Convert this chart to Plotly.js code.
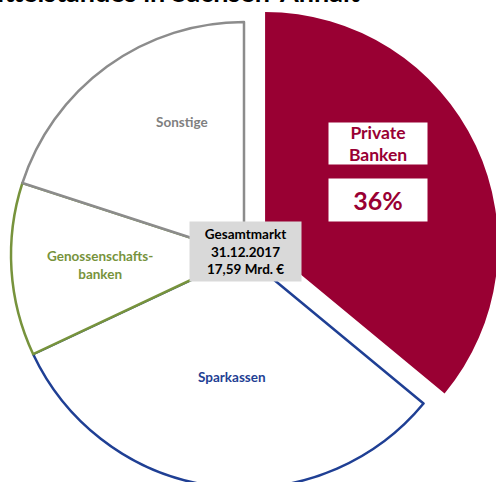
<!DOCTYPE html>
<html><head><meta charset="utf-8">
<script src="https://cdn.plot.ly/plotly-3.0.1.min.js"></script>
<style>
html,body{margin:0;padding:0;width:496px;height:482px;overflow:hidden;background:#fff;position:relative}
#chart{position:absolute;left:-20px;top:-40px;width:560px;height:560px}
</style>
</head><body><div id="chart"></div>
<script>
const categories = ["Private Banken", "Sparkassen", "Genossenschaftsbanken", "Sonstige"];
const shares = [36, 32, 12, 20];
const fillColors = ["#990033", "#ffffff", "#ffffff", "#ffffff"];
const lineColors = ["#990033", "#1f3f94", "#77933c", "#8c8c8c"];
const lineWidths = [0, 2.5, 2.5, 2.5];
const pulls = [0.1, 0, 0, 0];
const sliceLabels = ["Private<br>Banken", "Sparkassen", "Genossenschafts-<br>banken", "Sonstige"];
const shareLabel = "36%";
const totalLabel = ["Gesamtmarkt", "31.12.2017", "17,59 Mrd. €"];
const titleText = "Mittelstandes in Sachsen-Anhalt";

const W = 560, H = 560, OX = 20, OY = 40;
function px(x) { return (x + OX) / W; }
function py(y) { return 1 - (y + OY) / H; }
const FONT = "Lato, 'Open Sans', 'DejaVu Sans', sans-serif";

const trace = {
  type: "pie",
  labels: categories,
  values: shares,
  sort: false,
  direction: "clockwise",
  rotation: 0,
  pull: pulls,
  textinfo: "none",
  hoverinfo: "skip",
  marker: { colors: fillColors, line: { color: lineColors, width: lineWidths } },
  domain: { x: [7.7 / W, 520.3 / W], y: [1 - 551.3 / H, 1 - 38.7 / H] }
};

const ann = (o) => Object.assign({ xref: "paper", yref: "paper", showarrow: false,
                                   xanchor: "center", yanchor: "middle" }, o);

const annotations = [
  ann({ x: px(362), y: py(9.5), xanchor: "right", yanchor: "bottom", text: titleText,
        font: { family: FONT, size: 27, weight: "bold", color: "#000000" } }),
  ann({ x: px(182), y: py(122), text: sliceLabels[3],
        font: { family: FONT, size: 13.5, weight: "bold", color: "#7f7f7f" } }),
  ann({ x: px(100), y: py(265), text: sliceLabels[2],
        font: { family: FONT, size: 13.5, weight: "bold", color: "#77933c" } }),
  ann({ x: px(232), y: py(377), text: sliceLabels[1],
        font: { family: FONT, size: 13.5, weight: "bold", color: "#1f3f94" } }),
  ann({ x: px(245), y: py(251.5), width: 111, height: 59, borderpad: 0, bgcolor: "#d9d9d9",
        text: totalLabel.join("<br>"),
        font: { family: FONT, size: 13.5, weight: "bold", color: "#000000" } }),
  ann({ x: px(378), y: py(143.5), width: 98, height: 41, borderpad: 0, bgcolor: "#ffffff",
        text: sliceLabels[0],
        font: { family: FONT, size: 17.5, weight: "bold", color: "#990033" } }),
  ann({ x: px(378), y: py(200), width: 98, height: 42, borderpad: 0, bgcolor: "#ffffff",
        text: shareLabel,
        font: { family: FONT, size: 25, weight: "bold", color: "#990033" } })
];

const layout = {
  width: W, height: H,
  margin: { l: 0, r: 0, t: 0, b: 0 },
  showlegend: false,
  paper_bgcolor: "#ffffff",
  annotations: annotations
};

Plotly.newPlot("chart", [trace], layout, { staticPlot: true, displayModeBar: false });
</script>
</body></html>
